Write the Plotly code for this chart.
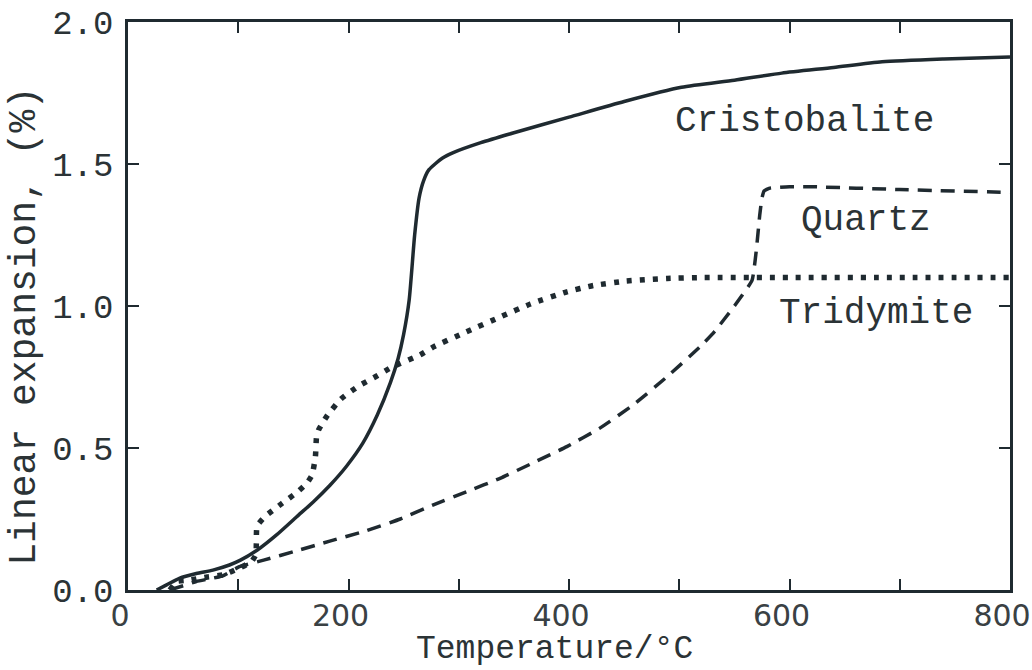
import plotly.graph_objects as go

# ---- data ----
cristobalite_T = [26, 35, 47, 62, 77, 92, 102, 117, 135, 153, 168, 183, 198, 213, 226, 238, 245, 250,
                  255, 260, 264, 268, 273, 285, 295, 320, 350, 400, 450, 502, 550, 593, 640, 684, 740, 800]
cristobalite_v = [0, 0.018, 0.042, 0.058, 0.07, 0.088, 0.105, 0.14, 0.195, 0.258, 0.31, 0.368, 0.435, 0.517,
                  0.615, 0.73, 0.815, 0.9, 1.02, 1.25, 1.38, 1.44, 1.48, 1.52, 1.54, 1.575, 1.61, 1.665,
                  1.72, 1.77, 1.795, 1.82, 1.84, 1.86, 1.87, 1.877]

quartz_T = [38, 50, 62, 75, 86, 101, 123, 153, 183, 213, 247, 277, 307, 338, 367, 398, 428, 458, 489,
            519, 532, 550, 566, 570, 573, 575, 577, 582, 600, 620, 700, 800]
quartz_v = [0, 0.015, 0.03, 0.04, 0.05, 0.082, 0.105, 0.138, 0.172, 0.205, 0.25, 0.3, 0.346, 0.394,
            0.447, 0.505, 0.57, 0.651, 0.751, 0.857, 0.91, 1.0, 1.09, 1.2, 1.32, 1.38, 1.405, 1.415,
            1.42, 1.42, 1.41, 1.40]

tridymite_T = [38, 44, 56, 72, 86, 101, 112, 116, 117, 124, 140, 153, 162, 167, 170, 171, 173, 176, 181,
               193, 209, 224, 240, 265, 277, 304, 338, 365, 398, 422, 452, 489, 520, 600, 700, 800]
tridymite_v = [0, 0.03, 0.035, 0.046, 0.053, 0.077, 0.10, 0.125, 0.225, 0.258, 0.306, 0.343, 0.375, 0.405,
               0.47, 0.54, 0.565, 0.585, 0.616, 0.672, 0.718, 0.75, 0.786, 0.828, 0.856, 0.904, 0.962,
               1.007, 1.05, 1.072, 1.088, 1.097, 1.10, 1.10, 1.10, 1.10]

x_tickvals = [0, 100, 200, 300, 400, 500, 600, 700, 800]
x_ticktext = ["0", "", "200", "", "400", "", "600", "", "800"]
y_tickvals = [0.0, 0.5, 1.0, 1.5, 2.0]
y_ticktext = ["0.0", "0.5", "1.0", "1.5", "2.0"]

labels = ["Cristobalite", "Quartz", "Tridymite"]
label_T = [614, 669, 678]
label_v = [1.65, 1.30, 0.975]

ink = "#1f2a30"
txt = "#2b3336"
mono = "Liberation Mono, Courier New, monospace"

fig = go.Figure()
fig.add_trace(go.Scatter(x=cristobalite_T, y=cristobalite_v, mode="lines",
                         line=dict(color=ink, width=3.5, shape="spline", smoothing=0.6),
                         name="Cristobalite"))
fig.add_trace(go.Scatter(x=quartz_T, y=quartz_v, mode="lines",
                         line=dict(color=ink, width=3.5, dash="14px,9px", shape="spline", smoothing=0.4),
                         name="Quartz"))
fig.add_trace(go.Scatter(x=tridymite_T, y=tridymite_v, mode="lines",
                         line=dict(color=ink, width=5.5, dash="5px,8px", shape="spline", smoothing=0.4),
                         name="Tridymite"))

for lab, t, v in zip(labels, label_T, label_v):
    fig.add_annotation(x=t, y=v, text=lab, showarrow=False,
                       font=dict(family=mono, size=36, color=txt),
                       xanchor="center", yanchor="middle")

fig.add_annotation(x=-0.117, xref="paper", y=0.93, yref="y", text="Linear expansion, (%)",
                   textangle=-90, showarrow=False, font=dict(family=mono, size=38, color=txt),
                   xanchor="center", yanchor="middle")
fig.add_annotation(x=387, xref="x", y=0, yref="paper", yshift=-80, text="Temperature/°C",
                   showarrow=False, font=dict(family=mono, size=33, color=txt),
                   xanchor="center", yanchor="bottom")

fig.update_xaxes(range=[0, 800], tickvals=x_tickvals, ticktext=x_ticktext,
                 ticks="inside", ticklen=11, tickwidth=2, tickcolor=ink,
                 showline=True, linecolor=ink, linewidth=2.5, mirror="ticks",
                 showgrid=False, zeroline=False, automargin=False,
                 ticklabeloverflow="allow", ticklabelshift=-8, ticklabelstandoff=-3,
                 tickfont=dict(family="DejaVu Sans, sans-serif", size=30, color="#3a4144"))
fig.update_yaxes(range=[0, 2.0], tickvals=y_tickvals, ticktext=y_ticktext,
                 ticks="inside", ticklen=11, tickwidth=2, tickcolor=ink,
                 showline=True, linecolor=ink, linewidth=2.5, mirror="ticks",
                 showgrid=False, zeroline=False, automargin=False,
                 ticklabeloverflow="allow", ticklabelstandoff=5,
                 tickfont=dict(family=mono, size=34, color=txt))

fig.update_layout(width=1032, height=670, margin=dict(l=128, r=22, t=22, b=80),
                  plot_bgcolor="white", paper_bgcolor="white", showlegend=False)

fig.write_html("out.html")
